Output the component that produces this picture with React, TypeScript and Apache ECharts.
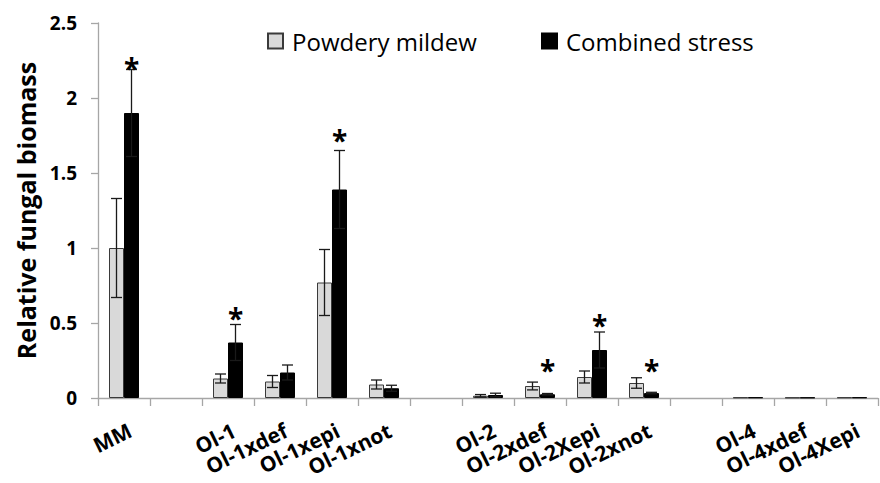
import React, { useEffect, useRef } from "react";
import * as echarts from "echarts";

const categories = ["MM", " ", "Ol-1", "Ol-1xdef", "Ol-1xepi", "Ol-1xnot", "  ", "Ol-2", "Ol-2xdef", "Ol-2Xepi", "Ol-2xnot", "   ", "Ol-4", "Ol-4xdef", "Ol-4Xepi"];
const powderyMildew = [1.0, null, 0.13, 0.11, 0.77, 0.09, null, 0.015, 0.08, 0.14, 0.1, null, 0.004, 0.003, 0.004];
const powderyMildewErr = [0.33, null, 0.03, 0.04, 0.22, 0.03, null, 0.008, 0.026, 0.04, 0.035, null, 0, 0, 0];
const combinedStress = [1.9, null, 0.37, 0.17, 1.39, 0.065, null, 0.02, 0.025, 0.32, 0.033, null, 0.004, 0.003, 0.004];
const combinedStressErr = [0.29, null, 0.12, 0.05, 0.26, 0.02, null, 0.012, 0.005, 0.12, 0.005, null, 0, 0, 0];
const starLevels = [2.25, null, 0.58, null, 1.77, null, null, null, 0.235, 0.533, 0.235, null, null, null, null];

const FONT = "Open Sans";

function errorSeries(values: (number | null)[], errs: (number | null)[], offset: number) {
  const data: number[][] = [];
  values.forEach((v, i) => {
    const e = errs[i];
    if (v != null && e != null && e > 0) data.push([i, v, e]);
  });
  return {
    type: "custom",
    silent: true,
    z: 5,
    data,
    encode: { x: 0, y: 1 },
    renderItem: (params: any, api: any) => {
      const i = api.value(0);
      const v = api.value(1);
      const e = api.value(2);
      const hi = api.coord([i, v + e]);
      const lo = api.coord([i, Math.max(0, v - e)]);
      const cx = hi[0] + offset;
      const style = { stroke: "#1a1a1a", lineWidth: 1.3 };
      return {
        type: "group",
        children: [
          { type: "line", shape: { x1: cx, y1: hi[1], x2: cx, y2: lo[1] }, style },
          { type: "line", shape: { x1: cx - 5.5, y1: hi[1], x2: cx + 5.5, y2: hi[1] }, style },
          { type: "line", shape: { x1: cx - 5.5, y1: lo[1], x2: cx + 5.5, y2: lo[1] }, style },
        ],
      };
    },
  };
}

export default function App() {
  const ref = useRef<HTMLDivElement>(null);
  useEffect(() => {
    if (!ref.current) return;
    const chart = echarts.init(ref.current, null, { renderer: "svg" });
    const starData: number[][] = [];
    starLevels.forEach((s, i) => {
      if (s != null) starData.push([i, s]);
    });
    const labelData: number[][] = [];
    categories.forEach((c, i) => {
      if (c.trim() !== "") labelData.push([i, 0]);
    });
    chart.setOption({
      animation: false,
      backgroundColor: "#ffffff",
      textStyle: { fontFamily: FONT },
      grid: { left: 98, right: 2, top: 23, bottom: 85, containLabel: false, outerBoundsMode: "none" },
      legend: [
        {
          left: 262,
          top: 24,
          data: ["Powdery mildew"],
          itemWidth: 15,
          itemHeight: 15,
          icon: "rect",
          textStyle: { fontSize: 24, color: "#000", fontFamily: FONT, padding: [0, 0, 0, 4] },
        },
        {
          left: 536,
          top: 24,
          data: ["Combined stress"],
          itemWidth: 15,
          itemHeight: 15,
          icon: "rect",
          textStyle: { fontSize: 24, color: "#000", fontFamily: FONT, padding: [0, 0, 0, 4] },
        },
      ],
      xAxis: {
        type: "category",
        data: categories,
        axisLine: { lineStyle: { color: "#a6a6a6", width: 1.3 } },
        axisTick: { show: true, length: 8, alignWithLabel: false, interval: 0, lineStyle: { color: "#a6a6a6", width: 1.3 } },
        axisLabel: { show: false },
      },
      yAxis: {
        type: "value",
        min: 0,
        max: 2.5,
        interval: 0.5,
        name: "Relative fungal biomass",
        nameLocation: "middle",
        nameRotate: 90,
        nameGap: 58,
        nameTextStyle: { fontSize: 25, fontWeight: "bold", color: "#000", fontFamily: FONT },
        splitLine: { show: false },
        axisLine: { show: true, lineStyle: { color: "#a6a6a6", width: 1.3 } },
        axisTick: { show: true, length: 7, lineStyle: { color: "#a6a6a6", width: 1.3 } },
        axisLabel: { fontSize: 19, fontWeight: "bold", color: "#000", margin: 21, fontFamily: FONT },
      },
      series: [
        {
          name: "Powdery mildew",
          type: "bar",
          data: powderyMildew,
          barWidth: 15,
          barGap: "0%",
          itemStyle: { color: "#d9d9d9", borderColor: "#3a3a3a", borderWidth: 1 },
        },
        {
          name: "Combined stress",
          type: "bar",
          data: combinedStress,
          barWidth: 15,
          barGap: "0%",
          itemStyle: { color: "#000000", borderColor: "#000000", borderWidth: 1 },
        },
        errorSeries(powderyMildew, powderyMildewErr, -7.5),
        errorSeries(combinedStress, combinedStressErr, 7.5),
        {
          type: "custom",
          silent: true,
          z: 6,
          data: starData,
          encode: { x: 0, y: 1 },
          renderItem: (params: any, api: any) => {
            const p = api.coord([api.value(0), api.value(1)]);
            return {
              type: "text",
              x: p[0] + 7.5,
              y: p[1] + 7,
              style: {
                text: "*",
                fontSize: 28,
                fontWeight: "bold",
                fontFamily: FONT,
                fill: "#000",
                align: "center",
                verticalAlign: "middle",
              },
            };
          },
        },
        {
          type: "custom",
          silent: true,
          clip: false,
          z: 6,
          data: labelData,
          encode: { x: 0, y: 1 },
          renderItem: (params: any, api: any) => {
            const i = api.value(0);
            const p = api.coord([i, 0]);
            return {
              type: "text",
              x: p[0] + 6,
              y: p[1] + 31,
              rotation: (26 * Math.PI) / 180,
              style: {
                text: categories[i],
                fontSize: 21,
                fontWeight: "bold",
                fontFamily: FONT,
                fill: "#000",
                align: "right",
                verticalAlign: "middle",
              },
            };
          },
        },
      ],
    });
    return () => chart.dispose();
  }, []);
  return <div ref={ref} style={{ position: "fixed", left: 0, top: 0, width: 880, height: 483 }} />;
}
